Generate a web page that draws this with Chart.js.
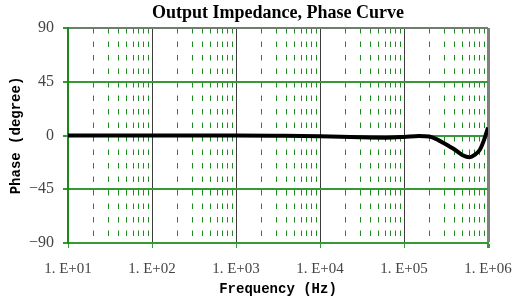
<!DOCTYPE html>
<html>
<head>
<meta charset="utf-8">
<script src="https://cdn.jsdelivr.net/npm/chart.js@4.4.1/dist/chart.umd.min.js"></script>
<style>
  html, body { margin: 0; padding: 0; background: #fff; }
  canvas { display: block; }
</style>
</head>
<body>
<canvas id="chart-phase" width="519" height="302"></canvas>
<script>
// phase curve (Hz, degrees)
var freqs = [10, 100, 1000, 3000, 10000, 30000, 60000, 100000, 150000, 200000,
  250000, 300000, 400000, 500000, 600000, 700000, 800000, 900000, 1000000];
var phases = [0, 0, 0, -0.2, -0.6, -1.5, -1.8, -1.2, -0.4, -0.9,
  -3.5, -6.5, -11.7, -16.5, -18.2, -16, -12, -3.5, 6.7];

var decades = [10, 100, 1000, 10000, 100000, 1000000];
var multiples = [1, 2, 3, 4, 5, 6, 7, 8, 9];
var yTicks = [-90, -45, 0, 45, 90];

var freqTicks = [];
decades.forEach(function (d, i) {
  if (i === decades.length - 1) { freqTicks.push(d); return; }
  multiples.forEach(function (m) { freqTicks.push(d * m); });
});

function isDecade(v) {
  var l = Math.log10(v);
  return Math.abs(l - Math.round(l)) < 1e-9;
}

var green = "#349a34";
var ctx = document.getElementById("chart-phase").getContext("2d");

new Chart(ctx, {
  type: "line",
  data: {
    datasets: [
      {
        data: freqs.map(function (f, i) { return { x: f, y: phases[i] }; }),
        borderColor: "#000",
        borderWidth: 4,
        pointRadius: 0,
        cubicInterpolationMode: "monotone",
        fill: false,
      },
    ],
  },
  options: {
    responsive: false,
    animation: false,
    layout: { padding: { left: 0, right: 31, top: 0, bottom: 0 } },
    plugins: {
      legend: { display: false },
      tooltip: { enabled: false },
      title: {
        display: true,
        fullSize: false,
        text: "Output Impedance, Phase Curve",
        color: "#000",
        font: { family: "'Liberation Serif', serif", size: 18, weight: "bold" },
        padding: { top: 3, bottom: 3.4 },
      },
    },
    scales: {
      x: {
        type: "logarithmic",
        position: "bottom",
        min: 10,
        max: 1000000,
        afterBuildTicks: function (scale) {
          scale.ticks = freqTicks.map(function (v) { return { value: v }; });
        },
        afterFit: function (scale) {
          scale.height = 59;
          scale.paddingLeft = 0;
          scale.paddingRight = 0;
        },
        grid: {
          color: function (c) {
            if (!c.tick) return "#3c3c3c";
            if (c.tick.value === 1000000) return "#808080";
            return isDecade(c.tick.value) ? "#3c3c3c" : "#1e8c1e";
          },
          lineWidth: function (c) {
            return c.tick && c.tick.value === 1000000 ? 3 : 1;
          },
          tickColor: function (c) {
            return c.tick && isDecade(c.tick.value) ? green : "rgba(0,0,0,0)";
          },
          tickLength: 5,
        },
        border: {
          color: green,
          width: 2,
          dash: function (c) {
            return c.tick && !isDecade(c.tick.value) ? [5.5, 8] : [];
          },
        },
        ticks: {
          autoSkip: false,
          maxRotation: 0,
          padding: 12,
          color: "#444",
          font: { family: "'Liberation Serif', serif", size: 15 },
          callback: function (v) {
            if (!isDecade(v)) return "";
            var e = Math.round(Math.log10(v));
            return "1. E+" + (e < 10 ? "0" : "") + e;
          },
        },
        title: {
          display: true,
          text: "Frequency (Hz)",
          color: "#000",
          font: { family: "'Liberation Mono', monospace", size: 14, weight: "bold" },
          padding: { top: 0, bottom: 4 },
        },
      },
      y: {
        min: -90,
        max: 90,
        afterBuildTicks: function (scale) {
          scale.ticks = yTicks.map(function (v) { return { value: v }; });
        },
        afterFit: function (scale) {
          scale.width = 68;
          scale.paddingTop = 0;
          scale.paddingBottom = 0;
        },
        grid: {
          color: function (c) {
            return c.tick && c.tick.value === 90 ? "#6e7e6e" : green;
          },
          lineWidth: 2,
          tickColor: green,
          tickLength: 5,
        },
        border: { color: "#1a8a1a", width: 2 },
        ticks: {
          padding: 9,
          color: "#444",
          font: { family: "'Liberation Serif', serif", size: 16 },
          callback: function (v) {
            return v < 0 ? "\u2212" + Math.abs(v) : String(v);
          },
        },
        title: {
          display: true,
          text: "Phase (degree)",
          color: "#000",
          font: { family: "'Liberation Mono', monospace", size: 14, weight: "bold" },
          padding: { top: 8, bottom: 0 },
        },
      },
    },
  },
});
</script>
</body>
</html>
